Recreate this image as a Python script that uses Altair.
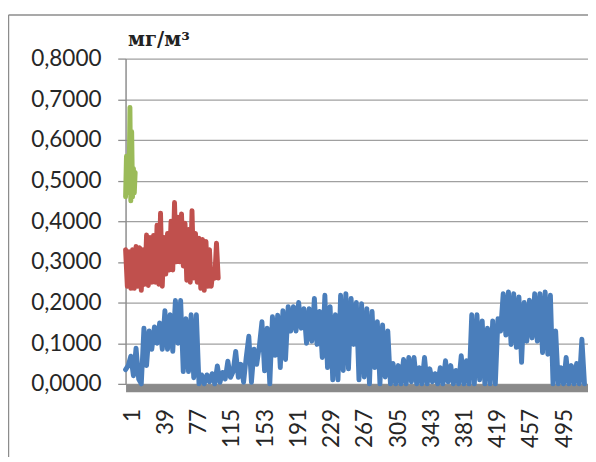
import altair as alt
import pandas as pd

# Blue series: values read at categories 1, 4, 7, ... (every 3rd category)
blue_cats = list(range(1, 527, 3))
blue_vals = [
    0.035, 0.045, 0.068, 0.02, 0.088, 0.012, 0.0, 0.137, 0.045, 0.13,
    0.085, 0.14, 0.1, 0.15, 0.085, 0.18, 0.085, 0.17, 0.08, 0.205,
    0.1, 0.205, 0.03, 0.16, 0.03, 0.17, 0.015, 0.17, 0.0, 0.022,
    0.0, 0.022, 0.005, 0.025, 0.0, 0.044, 0.004, 0.028, 0.012, 0.056,
    0.016, 0.03, 0.08, 0.016, 0.048, 0.004, 0.065, 0.117, 0.004, 0.085,
    0.048, 0.092, 0.153, 0.032, 0.137, 0.0, 0.165, 0.07, 0.169, 0.04,
    0.18, 0.06, 0.19, 0.13, 0.19, 0.13, 0.2, 0.137, 0.185, 0.1,
    0.185, 0.105, 0.21, 0.097, 0.178, 0.065, 0.218, 0.04, 0.19, 0.01,
    0.17, 0.01, 0.218, 0.033, 0.222, 0.037, 0.21, 0.097, 0.2, 0.01,
    0.197, 0.017, 0.185, 0.0, 0.178, 0.04, 0.153, 0.0, 0.145, 0.017,
    0.13, 0.0, 0.05, 0.0, 0.045, 0.0, 0.06, 0.0, 0.065, 0.005,
    0.065, 0.0, 0.04, 0.0, 0.065, 0.0, 0.037, 0.005, 0.025, 0.0,
    0.04, 0.0, 0.057, 0.005, 0.045, 0.0, 0.033, 0.0, 0.069, 0.0,
    0.057, 0.0, 0.17, 0.0, 0.17, 0.01, 0.155, 0.0, 0.137, 0.0,
    0.155, 0.0, 0.16, 0.13, 0.222, 0.12, 0.226, 0.097, 0.222, 0.09,
    0.214, 0.053, 0.2, 0.105, 0.206, 0.113, 0.222, 0.105, 0.222, 0.077,
    0.226, 0.073, 0.218, 0.0, 0.13, 0.0, 0.04, 0.0, 0.065, 0.0,
    0.045, 0.0, 0.05, 0.0, 0.11, 0.0,
]

# Red series: values read at categories 1, 3, 5, ... 107
red_cats = list(range(1, 108, 2))
red_vals = [
    0.33, 0.24, 0.325, 0.235, 0.33, 0.235, 0.338, 0.24, 0.335, 0.23,
    0.33, 0.245, 0.366, 0.242, 0.36, 0.25, 0.365, 0.25, 0.39, 0.245,
    0.42, 0.24, 0.36, 0.27, 0.37, 0.28, 0.4, 0.28, 0.446, 0.3,
    0.41, 0.3, 0.418, 0.29, 0.395, 0.255, 0.38, 0.25, 0.426, 0.26,
    0.37, 0.25, 0.358, 0.235, 0.355, 0.23, 0.35, 0.24, 0.33, 0.24,
    0.28, 0.26, 0.346, 0.26,
]

# Green series: categories 1..12
green_cats = list(range(1, 13))
green_vals = [0.46, 0.56, 0.47, 0.55, 0.5, 0.68, 0.45, 0.62, 0.46, 0.53, 0.47, 0.52]

series_names = ["s1", "s2", "s3"]
series_colors = ["#4a7ebb", "#c0504d", "#9bbb59"]

x_ticks = [1, 39, 77, 115, 153, 191, 229, 267, 305, 343, 381, 419, 457, 495]
y_ticks = [0.0, 0.1, 0.2, 0.3, 0.4, 0.5, 0.6, 0.7, 0.8]
unit_label = "мг/м³"

rows = []
for c, v in zip(blue_cats, blue_vals):
    rows.append({"cat": c, "value": v, "series": "s1"})
for c, v in zip(red_cats, red_vals):
    rows.append({"cat": c, "value": v, "series": "s2"})
for c, v in zip(green_cats, green_vals):
    rows.append({"cat": c, "value": v, "series": "s3"})
df = pd.DataFrame(rows)

label_font = "Lato"
label_color = "#262626"
gray = "#8c8c8c"

lines = alt.Chart(df).mark_line(
    strokeWidth=5, strokeJoin="round", strokeCap="round"
).encode(
    x=alt.X(
        "cat:Q",
        scale=alt.Scale(domain=[1, 530], nice=False, zero=False),
        axis=alt.Axis(
            values=x_ticks, labelAngle=270, ticks=False, grid=False,
            domainColor="#8a8a8a", domainWidth=8, offset=4,
            labelPadding=21, labelOffset=7, labelFont=label_font,
            labelFontSize=23, labelColor=label_color, title=None,
            labelOverlap=False,
        ),
    ),
    y=alt.Y(
        "value:Q",
        scale=alt.Scale(domain=[0, 0.8], nice=False),
        axis=alt.Axis(
            values=y_ticks, grid=True, gridColor="#a0a0a0", gridWidth=1.3,
            domainColor=gray, domainWidth=1.5, tickColor=gray, tickSize=8,
            tickWidth=1.3, labelPadding=17, labelFont=label_font,
            labelFontSize=23, labelColor=label_color,
            labelExpr="replace(format(datum.value, '.4f'), '.', ',')",
            title=unit_label, titleAngle=0, titleX=2, titleY=-13,
            titleAlign="left", titleBaseline="alphabetic",
            titleFont="DejaVu Serif", titleFontWeight="bold",
            titleFontSize=20, titleColor="#222222",
        ),
    ),
    color=alt.Color(
        "series:N",
        scale=alt.Scale(domain=series_names, range=series_colors),
        legend=None,
    ),
    detail="series:N",
)

border_df = pd.DataFrame({"k": [0]})
border_left = alt.Chart(border_df).mark_rule(color=gray, strokeWidth=1.5).encode(
    x=alt.value(-119.5), y=alt.value(-44.5), y2=alt.value(460)
)
border_top = alt.Chart(border_df).mark_rule(color=gray, strokeWidth=1.5).encode(
    x=alt.value(-119.5), x2=alt.value(600), y=alt.value(-44.5)
)

chart = alt.layer(lines, border_left, border_top).properties(
    width=472, height=332,
    padding={"left": 120, "top": 47, "right": 0, "bottom": 70},
    autosize=alt.AutoSizeParams(type="none"),
    background="white",
).configure_view(strokeWidth=0)

chart.save("out.html", embed_options={"renderer": "svg", "actions": False})
